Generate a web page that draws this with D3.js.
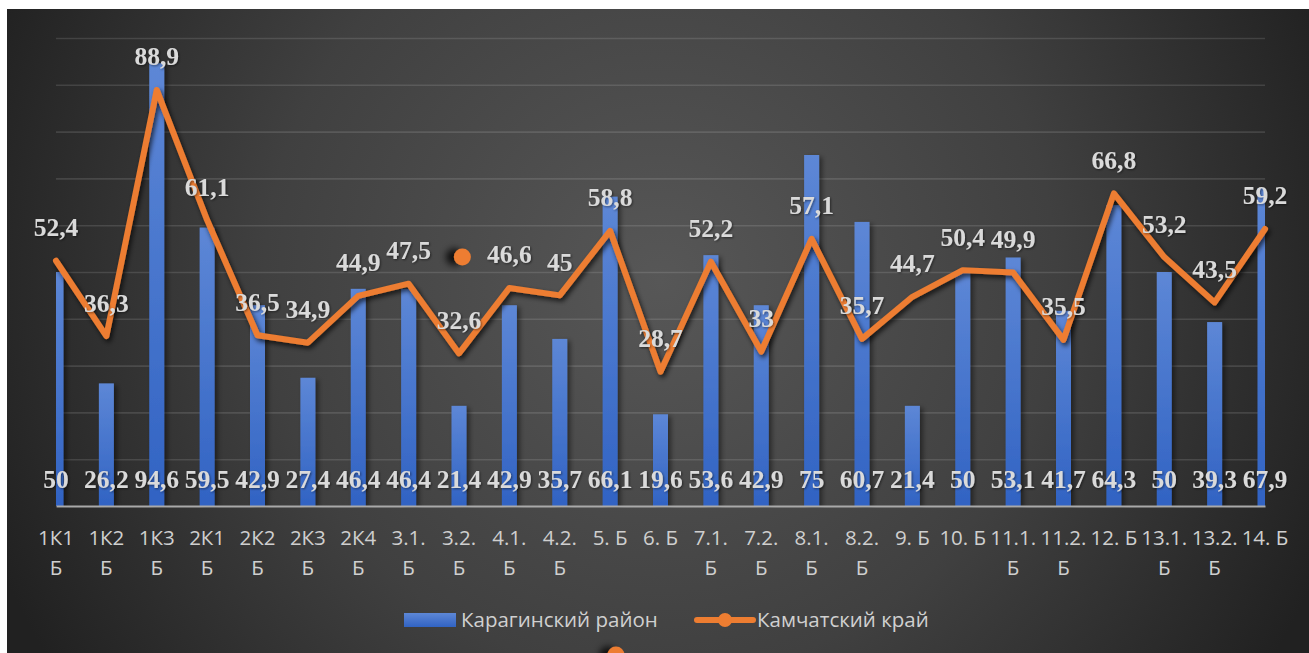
<!DOCTYPE html>
<html><head><meta charset="utf-8">
<script src="https://cdn.jsdelivr.net/npm/d3@7/dist/d3.min.js"></script>
<style>html,body{margin:0;padding:0;background:#fff;}svg{display:block;}</style>
</head><body>
<svg id="chart" width="1309" height="653"></svg>
<script>
const categories = ["1К1 Б","1К2 Б","1К3 Б","2К1 Б","2К2 Б","2К3 Б","2К4 Б","3.1. Б","3.2. Б","4.1. Б","4.2. Б","5. Б","6. Б","7.1. Б","7.2. Б","8.1. Б","8.2. Б","9. Б","10. Б","11.1. Б","11.2. Б","12. Б","13.1. Б","13.2. Б","14. Б"];
const karaginsky = [50,26.2,94.6,59.5,42.9,27.4,46.4,46.4,21.4,42.9,35.7,66.1,19.6,53.6,42.9,75,60.7,21.4,50,53.1,41.7,64.3,50,39.3,67.9];
const kamchatka = [52.4,36.3,88.9,61.1,36.5,34.9,44.9,47.5,32.6,46.6,45,58.8,28.7,52.2,33,57.1,35.7,44.7,50.4,49.9,35.5,66.8,53.2,43.5,59.2];
const yTicks = [0,10,20,30,40,50,60,70,80,90,100];
const seriesNames = ["Карагинский район","Камчатский край"];

(function(){
const svg = d3.select("#chart");
const W = 1309, H = 653;
const pLeft = 56, pRight = 1265, pTop = 38, pBottom = 506;

const defs = svg.append("defs");
const bg = defs.append("radialGradient").attr("id","bg").attr("gradientUnits","userSpaceOnUse")
  .attr("cx",660).attr("cy",280).attr("r",720);
bg.append("stop").attr("offset","0").attr("stop-color","#575757");
bg.append("stop").attr("offset","0.55").attr("stop-color","#404040");
bg.append("stop").attr("offset","1").attr("stop-color","#212121");

const barG = defs.append("linearGradient").attr("id","barG").attr("x1",0).attr("y1",0).attr("x2",0).attr("y2",1);
barG.append("stop").attr("offset","0").attr("stop-color","#5d87d6");
barG.append("stop").attr("offset","1").attr("stop-color","#3163c3");

const sh = defs.append("filter").attr("id","sh").attr("x","-20%").attr("y","-20%").attr("width","140%").attr("height","140%");
sh.append("feDropShadow").attr("dx",2).attr("dy",3).attr("stdDeviation",2.5).attr("flood-color","#000").attr("flood-opacity",0.7);
const shBar = defs.append("filter").attr("id","shBar").attr("x","-50%").attr("y","-10%").attr("width","200%").attr("height","120%");
shBar.append("feDropShadow").attr("dx",3).attr("dy",2).attr("stdDeviation",2.5).attr("flood-color","#000").attr("flood-opacity",0.45);
const shTxt = defs.append("filter").attr("id","shTxt");
shTxt.append("feDropShadow").attr("dx",1).attr("dy",1).attr("stdDeviation",1.2).attr("flood-color","#000").attr("flood-opacity",0.5);
const shDot = defs.append("filter").attr("id","shDot").attr("x","-150%").attr("y","-100%").attr("width","300%").attr("height","300%");
shDot.append("feDropShadow").attr("dx",-8).attr("dy",0).attr("stdDeviation",3.5).attr("flood-color","#000").attr("flood-opacity",0.8);

defs.append("clipPath").attr("id","plotClip").append("rect")
  .attr("x",pLeft).attr("y",0).attr("width",pRight-pLeft).attr("height",pBottom+2);

svg.append("rect").attr("x",0).attr("y",0).attr("width",W).attr("height",H).attr("fill","#fff");
svg.append("rect").attr("x",7).attr("y",9).attr("width",W-7).attr("height",H-9).attr("fill","url(#bg)");

const x = d3.scalePoint().domain(categories).range([pLeft,pRight]);
const y = d3.scaleLinear().domain([0,100]).range([pBottom,pTop]);

// gridlines
const yAxis = d3.axisLeft(y).tickValues(yTicks.filter(d=>d>0)).tickSize(-(pRight-pLeft)).tickFormat("");
const gy = svg.append("g").attr("transform",`translate(${pLeft},0)`).call(yAxis);
gy.select(".domain").remove();
gy.selectAll(".tick line").attr("stroke","#ffffff").attr("stroke-opacity",0.12).attr("stroke-width",1.6);

// bars
const bw = 15;
svg.append("g").attr("clip-path","url(#plotClip)")
  .selectAll("rect").data(karaginsky).join("rect")
  .attr("x",(d,i)=>x(categories[i])-bw/2).attr("width",bw)
  .attr("y",d=>y(d)).attr("height",d=>y(0)-y(d))
  .attr("fill","url(#barG)").attr("filter","url(#shBar)");

// category axis
const xAxis = d3.axisBottom(x).tickSize(0).tickFormat("");
const gx = svg.append("g").attr("transform",`translate(0,${pBottom})`).call(xAxis);
gx.select(".domain").attr("stroke","#a9a9a9").attr("stroke-width",2.2);

const catFont = "'Open Sans','Noto Sans',sans-serif";
const catG = svg.append("g").attr("font-family",catFont).attr("font-size",20.5).attr("fill","#cfcfcf").attr("text-anchor","middle");
categories.forEach(c=>{
  const single = /^\d+\. Б$/.test(c);
  const idx = c.lastIndexOf(" ");
  const lines = single ? [c] : [c.slice(0,idx), c.slice(idx+1)];
  const t = catG.append("text").attr("x",x(c)).attr("y",545);
  lines.forEach((ln,k)=>t.append("tspan").attr("x",x(c)).attr("dy",k===0?0:30).text(ln));
});

// line
const line = d3.line().x((d,i)=>x(categories[i])).y(d=>y(d));
svg.append("path").datum(kamchatka).attr("d",line)
  .attr("fill","none").attr("stroke","#ed7d31").attr("stroke-width",6)
  .attr("stroke-linejoin","round").attr("stroke-linecap","round").attr("filter","url(#sh)");

const fmt = v => String(v).replace(".",",");
const labFont = "'Liberation Serif','Times New Roman',serif";

// bar labels (inside base)
svg.append("g").attr("font-family",labFont).attr("font-weight","bold").attr("font-size",25.5)
  .attr("fill","#dadada").attr("text-anchor","middle").attr("filter","url(#shTxt)")
  .selectAll("text").data(karaginsky).join("text")
  .attr("x",(d,i)=>x(categories[i])).attr("y",y(0)-18).text(fmt);

// line labels (above)
svg.append("g").attr("font-family",labFont).attr("font-weight","bold").attr("font-size",25.5)
  .attr("fill","#dadada").attr("text-anchor","middle").attr("filter","url(#shTxt)")
  .selectAll("text").data(kamchatka).join("text")
  .attr("x",(d,i)=>x(categories[i])).attr("y",d=>y(d)-24.5).text(fmt);

// stray marker next to the 4.1 label (as in the original)
const i41 = categories.indexOf("4.1. Б");
svg.append("circle").attr("cx",x(categories[i41])-47).attr("cy",y(kamchatka[i41])-31).attr("r",8.5)
  .attr("fill","#ed7d31").attr("filter","url(#shDot)");

// legend
const lg = svg.append("g").attr("font-family",catFont).attr("font-size",20.5).attr("fill","#d0d0d0");
lg.append("rect").attr("x",404).attr("y",613).attr("width",52).attr("height",14).attr("fill","url(#barG)");
lg.append("text").attr("x",461).attr("y",627).text(seriesNames[0]);
lg.append("line").attr("x1",697).attr("x2",753).attr("y1",620).attr("y2",620).attr("stroke","#ed7d31").attr("stroke-width",6).attr("stroke-linecap","round");
lg.append("circle").attr("cx",725).attr("cy",620).attr("r",7).attr("fill","#ed7d31");
lg.append("text").attr("x",757).attr("y",627).text(seriesNames[1]);
svg.append("circle").attr("cx",616).attr("cy",655).attr("r",8.5).attr("fill","#ed7d31").attr("filter","url(#shDot)");
})();
</script>
</body></html>
